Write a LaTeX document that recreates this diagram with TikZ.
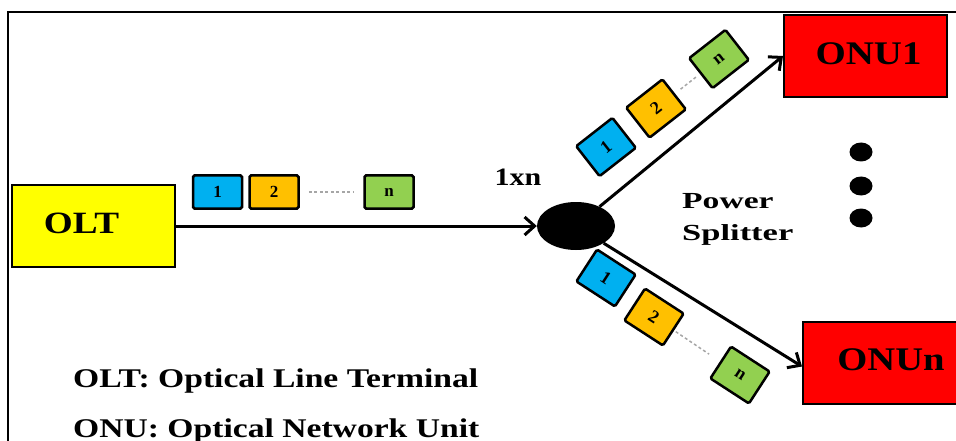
\documentclass[tikz,border=0pt]{standalone}
\usepackage{fontspec}
\setmainfont{Liberation Serif}
\usetikzlibrary{arrows.meta,shapes.geometric,calc}
\definecolor{pblue}{HTML}{00B0F0}
\definecolor{porange}{HTML}{FFC000}
\definecolor{pgreen}{HTML}{92D050}
\definecolor{olty}{HTML}{FFFF00}
\definecolor{onur}{HTML}{FF0000}
\definecolor{dashgray}{HTML}{A6A6A6}
\newcommand\hstretch[2]{\scalebox{#1}[1]{#2}}
\begin{document}
\begin{tikzpicture}[x=1pt,y=-1pt,
  unitbox/.style={draw=black, line width=2pt, inner sep=0pt, minimum width=163pt, minimum height=82pt},
  boxtext/.style={inner sep=0pt, font=\bfseries\fontsize{33}{33}\selectfont},
  pkt/.style={draw=black, line width=2.5pt, rounded corners=1.5pt, minimum width=49pt, minimum height=33pt, inner sep=0pt, font=\bfseries\fontsize{17}{17}\selectfont},
  rpkt/.style={pkt, minimum width=46pt, minimum height=38pt, font=\bfseries\fontsize{18}{18}\selectfont},
  link/.style={line width=3pt, -{Straight Barb[length=10pt,width=18pt,line width=3pt]}},
  gapline/.style={draw=dashgray, line width=1.5pt, dash pattern=on 3pt off 2.5pt},
  lbl/.style={inner sep=0pt, font=\bfseries\fontsize{25}{25}\selectfont},
  dotnode/.style={ellipse, fill=black, minimum width=23pt, minimum height=19pt, inner sep=0pt}
]
\useasboundingbox (0,0) rectangle (956,441);
% frame
\draw[line width=2pt] (8,441) -- (8,12) -- (956,12);
% terminals
\node[unitbox, fill=olty] (olt) at (93,226) {};
\node[boxtext, font=\bfseries\fontsize{31}{31}\selectfont] (olttxt) at (81.5,223) {\hstretch{1.2}{OLT}};
\node[unitbox, fill=onur] (onu1) at (865.5,56) {};
\node[boxtext] (onu1txt) at (868.5,54) {\hstretch{1.18}{ONU1}};
\node[unitbox, fill=onur, minimum width=160pt] (onun) at (883,362.5) {};
\node[boxtext] (onuntxt) at (891,360) {\hstretch{1.17}{ONUn}};
% splitter
\node[ellipse, fill=black, minimum width=78pt, minimum height=48pt, inner sep=0pt] (split) at (576,226) {};
\node[lbl] (onexn) at (518,177) {\hstretch{1.2}{1xn}};
\node[lbl, font=\bfseries\fontsize{23}{23}\selectfont, anchor=base west] (pw) at (682,208) {\hstretch{1.46}{Power}};
\node[lbl, font=\bfseries\fontsize{23}{23}\selectfont, anchor=base west] (sp) at (682,240) {\hstretch{1.5}{Splitter}};
% links
\draw[link] (olt) -- (split);
\draw[link] (split) -- (onu1.west);
\draw[link] (split) -- ($(onun.west)+(0,4)$);
% horizontal packets
\node[pkt, fill=pblue] (h1) at (217.5,192) {1};
\node[pkt, fill=porange] (h2) at (274,192) {2};
\node[pkt, fill=pgreen] (hn) at (389,192) {n};
\draw[gapline, shorten <=9pt, shorten >=9pt] (h2) -- (hn);
% upper branch packets
\node[rpkt, fill=pblue, rotate=38] (u1) at (606,147) {1};
\node[rpkt, fill=porange, rotate=38] (u2) at (656,108.5) {2};
\node[rpkt, fill=pgreen, rotate=38] (un) at (719,59) {n};
\draw[gapline, shorten <=7pt, shorten >=5pt] (u2) -- (un);
% lower branch packets
\node[rpkt, fill=pblue, rotate=-33] (l1) at (606,278) {1};
\node[rpkt, fill=porange, rotate=-33] (l2) at (654,317) {2};
\node[rpkt, fill=pgreen, rotate=-33] (ln) at (740,375) {n};
\draw[gapline, shorten <=2pt, shorten >=13pt] (l2) -- (ln);
% dots
\node[dotnode] (d1) at (861,152) {};
\node[dotnode] (d2) at (861,186) {};
\node[dotnode] (d3) at (861,218) {};
% legend
\node[lbl, font=\bfseries\fontsize{27}{27}\selectfont, anchor=base west] (leg1) at (73,387) {\hstretch{1.245}{OLT: Optical Line Terminal}};
\node[lbl, font=\bfseries\fontsize{27}{27}\selectfont, anchor=base west] (leg2) at (73,437) {\hstretch{1.245}{ONU: Optical Network Unit}};
\end{tikzpicture}
\end{document}
